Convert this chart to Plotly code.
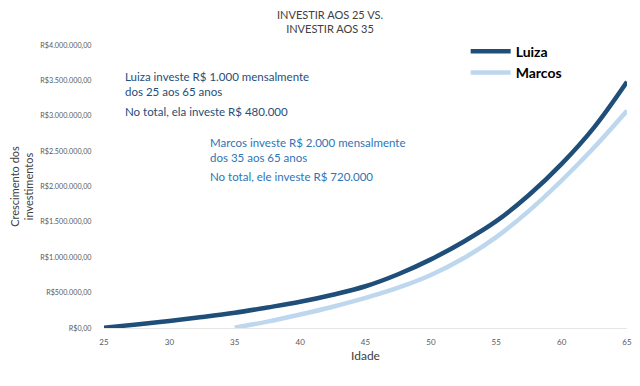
import plotly.graph_objects as go

idade = [25, 27.5, 30, 32.5, 35, 37.5, 40, 42.5, 45, 47.5, 50, 52.5, 55, 57.5, 60, 62.5, 65]
luiza = [5000, 50000, 100000, 155000, 216000, 290000, 370000, 470000, 590000, 760000, 970000,
         1220000, 1510000, 1880000, 2320000, 2840000, 3480000]
idade_marcos = [35, 37.5, 40, 42.5, 45, 47.5, 50, 52.5, 55, 57.5, 60, 62.5, 65]
marcos = [5000, 90000, 190000, 300000, 425000, 570000, 750000, 985000, 1285000, 1655000,
          2085000, 2555000, 3070000]

y_ticks = [0, 500000, 1000000, 1500000, 2000000, 2500000, 3000000, 3500000, 4000000]
y_labels = ["R$0,00", "R$500.000,00", "R$1.000.000,00", "R$1.500.000,00", "R$2.000.000,00",
            "R$2.500.000,00", "R$3.000.000,00", "R$3.500.000,00", "R$4.000.000,00"]
x_ticks = [25, 30, 35, 40, 45, 50, 55, 60, 65]

FONT = "Lato"
NARROW = "Liberation Sans Narrow, Lato"
fig = go.Figure()
fig.add_trace(go.Scatter(x=idade, y=luiza, mode="lines", name="Luiza",
                         line=dict(color="#1f4e79", width=4.5, shape="spline")))
fig.add_trace(go.Scatter(x=idade_marcos, y=marcos, mode="lines", name="Marcos",
                         line=dict(color="#bdd7ee", width=4.5, shape="spline")))

# page body adds an 8px offset; margins compensate
fig.update_layout(
    width=640, height=386,
    margin=dict(l=96, r=21, t=37, b=66, autoexpand=False),
    paper_bgcolor="white", plot_bgcolor="white",
    font=dict(family=FONT, color="#595959"),
    showlegend=True,
    legend=dict(x=0.6915, y=1.033, xanchor="left", yanchor="top",
                font=dict(size=14, color="#000000", family=FONT, weight="bold"),
                bgcolor="rgba(0,0,0,0)", itemwidth=40),
    xaxis=dict(range=[25, 65], tickvals=x_ticks, showgrid=False, zeroline=False, automargin=False,
               showline=False, ticks="outside", ticklen=6, tickcolor="rgba(0,0,0,0)",
               tickfont=dict(size=8, color="#595959"),
               title=dict(text="Idade", font=dict(size=12, color="#404040"), standoff=6)),
    yaxis=dict(range=[0, 4000000], tickvals=y_ticks, ticktext=y_labels, showgrid=False, automargin=False,
               zeroline=True, zerolinecolor="#e6e6e6", zerolinewidth=1, showline=False,
               ticks="outside", ticklen=10, tickcolor="rgba(0,0,0,0)",
               tickfont=dict(size=7.2, color="#595959"),
               title=dict(text="Crescimento dos<br>investimentos", font=dict(size=11, color="#404040"),
                          standoff=10)),
)

fig.add_annotation(xref="paper", yref="paper", x=(330 - 104) / 523, y=(328 - 6) / 283,
                   xanchor="center", yanchor="top", align="center", showarrow=False,
                   text="INVESTIR AOS 25 VS.<br>INVESTIR AOS 35",
                   font=dict(size=11, color="#404040", family=NARROW))
fig.add_annotation(xref="paper", yref="paper", x=0.036, y=(328 - 68) / 283, xanchor="left", yanchor="top",
                   align="left", showarrow=False,
                   text="Luiza investe R$ 1.000 mensalmente<br>dos 25 aos 65 anos",
                   font=dict(size=11.5, color="#1f4e79", family=FONT))
fig.add_annotation(xref="paper", yref="paper", x=0.036, y=(328 - 111) / 283, xanchor="left", yanchor="middle",
                   align="left", showarrow=False, text="No total, ela investe R$ 480.000",
                   font=dict(size=11.5, color="#1f4e79", family=FONT))
fig.add_annotation(xref="paper", yref="paper", x=0.199, y=(328 - 134) / 283, xanchor="left", yanchor="top",
                   align="left", showarrow=False,
                   text="Marcos investe R$ 2.000 mensalmente<br>dos 35 aos 65 anos",
                   font=dict(size=11.5, color="#2e75b6", family=FONT))
fig.add_annotation(xref="paper", yref="paper", x=0.199, y=(328 - 176) / 283, xanchor="left", yanchor="middle",
                   align="left", showarrow=False, text="No total, ele investe R$ 720.000",
                   font=dict(size=11.5, color="#2e75b6", family=FONT))

fig.write_html("out.html")
